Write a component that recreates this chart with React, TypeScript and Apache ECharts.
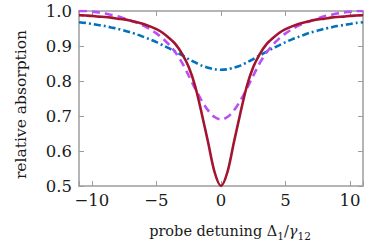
import React, { useEffect, useRef } from "react";
import * as echarts from "echarts";

const detuning = [
  -11, -10.5, -10, -9.5, -9, -8.5, -8, -7.5, -7, -6.5, -6, -5.5, -5, -4.5, -4, -3.5, -3, -2.5, -2, -1.5, -1, -0.5,
  0, 0.5, 1, 1.5, 2, 2.5, 3, 3.5, 4, 4.5, 5, 5.5, 6, 6.5, 7, 7.5, 8, 8.5, 9, 9.5, 10, 10.5, 11,
];

const broadCurve = [
  0.968, 0.966, 0.963, 0.96, 0.957, 0.953, 0.949, 0.944, 0.939, 0.933, 0.926, 0.919, 0.911, 0.902, 0.893, 0.883, 0.873, 0.8625, 0.853, 0.844, 0.838, 0.8335,
  0.832,
  0.8335, 0.838, 0.844, 0.853, 0.8625, 0.873, 0.883, 0.893, 0.902, 0.911, 0.919, 0.926, 0.933, 0.939, 0.944, 0.949, 0.953, 0.957, 0.96, 0.963, 0.966, 0.968,
];

const mediumCurve = [
  1.0, 1.0, 0.998, 0.996, 0.993, 0.989, 0.985, 0.979, 0.973, 0.966, 0.958, 0.948, 0.936, 0.921, 0.903, 0.88, 0.851, 0.815, 0.778, 0.744, 0.716, 0.697,
  0.69,
  0.697, 0.716, 0.744, 0.778, 0.815, 0.851, 0.88, 0.903, 0.921, 0.936, 0.948, 0.958, 0.966, 0.973, 0.979, 0.985, 0.989, 0.993, 0.996, 0.998, 1.0, 1.0,
];

const narrowCurve = [
  0.988, 0.987, 0.986, 0.984, 0.983, 0.981, 0.978, 0.976, 0.972, 0.968, 0.963, 0.956, 0.948, 0.937, 0.922, 0.904, 0.877, 0.84, 0.785, 0.708, 0.625, 0.54,
  0.5,
  0.54, 0.625, 0.708, 0.785, 0.84, 0.877, 0.904, 0.922, 0.937, 0.948, 0.956, 0.963, 0.968, 0.972, 0.976, 0.978, 0.981, 0.983, 0.984, 0.986, 0.987, 0.988,
];

const xLabelTicks = [-10, -5, 0, 5, 10];
const xName = "{n|probe detuning Δ}{s|1}{n|/}{g|γ}{s|12}";
const yName = "relative absorption";

export default function App() {
  const ref = useRef<HTMLDivElement>(null);
  useEffect(() => {
    document.body.style.margin = "0";
    const chart = echarts.init(ref.current!, null, { renderer: "svg" });
    const font = "DejaVu Serif";
    const axisColor = "#9d9d9d";
    const textColor = "#1a1a1a";
    const pair = (ys: number[]) => detuning.map((x, i) => [x, ys[i]]);
    const fmtX = (v: number) =>
      xLabelTicks.includes(v) ? String(v).replace("-", "\u2212") : "";
    const tickStyle = { inside: true, length: 5, lineStyle: { color: axisColor, width: 1 } };
    const lineAxis = { onZero: false, lineStyle: { color: axisColor, width: 1.5 } };
    chart.setOption({
      animation: false,
      grid: { left: 79, right: 11, top: 11, bottom: 56 },
      xAxis: [
        {
          type: "value",
          min: -11,
          max: 11,
          splitNumber: 4,
          position: "bottom",
          axisLine: lineAxis,
          axisTick: tickStyle,
          splitLine: { show: false },
          axisLabel: {
            formatter: fmtX,
            fontFamily: font,
            fontSize: 16.5,
            color: textColor,
            margin: 6,
          },
          name: xName,
          nameLocation: "middle",
          nameGap: 35,
          nameTextStyle: {
            padding: [0, 0, 0, 18],
            rich: {
              n: { fontFamily: font, fontSize: 14.5, color: textColor, lineHeight: 20, verticalAlign: "middle" },
              g: { fontFamily: font, fontSize: 14.5, fontStyle: "italic", color: textColor, lineHeight: 20, verticalAlign: "middle" },
              s: { fontFamily: font, fontSize: 10.5, color: textColor, lineHeight: 8, verticalAlign: "bottom" },
            },
          },
        },
        {
          type: "value",
          min: -11,
          max: 11,
          splitNumber: 4,
          position: "top",
          axisLine: lineAxis,
          axisTick: tickStyle,
          splitLine: { show: false },
          axisLabel: { show: false },
        },
      ],
      yAxis: [
        {
          type: "value",
          min: 0.5,
          max: 1.0,
          interval: 0.1,
          position: "left",
          axisLine: { show: true, ...lineAxis },
          axisTick: tickStyle,
          splitLine: { show: false },
          axisLabel: {
            formatter: (v: number) => v.toFixed(1),
            fontFamily: font,
            fontSize: 16.5,
            color: textColor,
            margin: 7,
          },
          name: yName,
          nameLocation: "middle",
          nameGap: 50,
          nameTextStyle: { fontFamily: font, fontSize: 15.5, color: textColor, padding: [0, 12, 0, 0] },
        },
        {
          type: "value",
          min: 0.5,
          max: 1.0,
          interval: 0.1,
          position: "right",
          axisLine: { show: true, ...lineAxis },
          axisTick: tickStyle,
          splitLine: { show: false },
          axisLabel: { show: false },
        },
      ],
      series: [
        {
          type: "line",
          data: pair(broadCurve),
          xAxisIndex: 0,
          yAxisIndex: 0,
          smooth: 0.3,
          showSymbol: false,
          lineStyle: { color: "#0072BD", width: 2.6, type: [7, 3, 2, 3] },
        },
        {
          type: "line",
          data: pair(mediumCurve),
          xAxisIndex: 0,
          yAxisIndex: 0,
          smooth: 0.3,
          showSymbol: false,
          lineStyle: { color: "#BB4FF4", width: 2.6, type: [8, 5] },
        },
        {
          type: "line",
          data: pair(narrowCurve),
          xAxisIndex: 0,
          yAxisIndex: 0,
          smooth: 0.3,
          showSymbol: false,
          lineStyle: { color: "#A2142F", width: 2.6 },
        },
      ],
    });
    return () => chart.dispose();
  }, []);
  return <div ref={ref} style={{ width: 374, height: 246 }} />;
}
